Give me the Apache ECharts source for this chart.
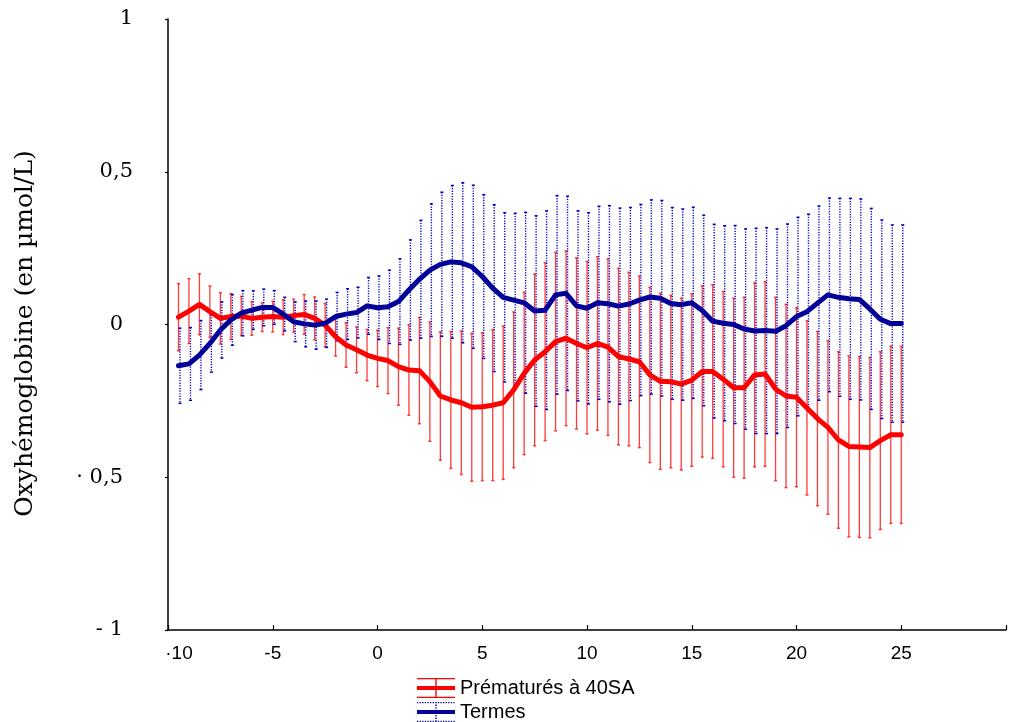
<!DOCTYPE html>
<html><head><meta charset="utf-8">
<script src="https://cdn.jsdelivr.net/npm/echarts@6/dist/echarts.min.js"></script>
<style>html,body{margin:0;padding:0;background:#fff}#c{width:1009px;height:722px}</style>
</head><body><div id="c"></div>
<script>
// ---- data ----
const xValues = [-9.5,-9,-8.5,-8,-7.5,-7,-6.5,-6,-5.5,-5,-4.5,-4,-3.5,-3,-2.5,-2,-1.5,-1,-0.5,
  0,0.5,1,1.5,2,2.5,3,3.5,4,4.5,5,5.5,6,6.5,7,7.5,8,8.5,9,9.5,10,10.5,11,11.5,12,12.5,13,13.5,14,14.5,
  15,15.5,16,16.5,17,17.5,18,18.5,19,19.5,20,20.5,21,21.5,22,22.5,23,23.5,24,24.5,25];

const pretermMean = [0.024,0.044,0.066,0.042,0.020,0.026,0.028,0.020,0.024,0.026,0.024,0.029,0.033,0.020,-0.002,-0.040,-0.067,-0.083,-0.100,
  -0.111,-0.118,-0.138,-0.149,-0.151,-0.187,-0.234,-0.247,-0.256,-0.271,-0.269,-0.264,-0.256,-0.214,-0.160,-0.116,-0.089,-0.056,-0.045,-0.062,
  -0.076,-0.062,-0.074,-0.105,-0.113,-0.122,-0.165,-0.186,-0.187,-0.195,-0.182,-0.154,-0.154,-0.179,-0.207,-0.207,-0.165,-0.162,-0.211,-0.234,
  -0.238,-0.273,-0.308,-0.337,-0.378,-0.399,-0.401,-0.403,-0.380,-0.361,-0.361];
const pretermSD = [0.110,0.106,0.100,0.084,0.084,0.075,0.064,0.055,0.047,0.050,0.057,0.054,0.065,0.070,0.071,0.063,0.073,0.075,0.084,
  0.092,0.108,0.126,0.148,0.174,0.195,0.210,0.224,0.235,0.242,0.242,0.247,0.251,0.255,0.266,0.281,0.291,0.292,0.286,0.280,
  0.282,0.284,0.289,0.289,0.284,0.281,0.287,0.288,0.282,0.281,0.282,0.280,0.284,0.287,0.293,0.296,0.301,0.302,0.300,0.300,
  0.293,0.285,0.285,0.284,0.289,0.296,0.296,0.295,0.291,0.290,0.290];

const termMean = [-0.135,-0.129,-0.100,-0.062,-0.018,0.015,0.037,0.047,0.056,0.056,0.034,0.009,0.002,-0.002,0.004,0.026,0.034,0.039,0.061,
  0.055,0.058,0.075,0.113,0.148,0.178,0.197,0.205,0.202,0.189,0.157,0.119,0.089,0.080,0.071,0.044,0.047,0.097,0.102,0.061,
  0.053,0.071,0.068,0.060,0.067,0.080,0.090,0.086,0.069,0.065,0.071,0.046,0.011,0.004,0.000,-0.015,-0.021,-0.020,-0.022,-0.004,
  0.026,0.042,0.070,0.097,0.089,0.084,0.082,0.051,0.017,0.003,0.003];
const termSD = [0.123,0.119,0.113,0.094,0.092,0.083,0.074,0.063,0.060,0.055,0.055,0.065,0.075,0.079,0.079,0.079,0.083,0.083,0.093,
  0.104,0.120,0.140,0.164,0.193,0.217,0.236,0.250,0.262,0.267,0.268,0.273,0.277,0.284,0.296,0.312,0.325,0.325,0.318,0.311,
  0.313,0.316,0.321,0.321,0.316,0.313,0.318,0.320,0.314,0.313,0.313,0.312,0.317,0.319,0.324,0.328,0.336,0.337,0.335,0.333,
  0.325,0.319,0.318,0.317,0.324,0.329,0.329,0.329,0.325,0.323,0.323];

const seriesNames = ['Prématurés à 40SA', 'Termes'];
const xTickValues = [-10,-5,0,5,10,15,20,25,30];
const xTickLabels = ['·10','-5','0','5','10','15','20','25',''];
const yTickValues = [-1,-0.5,0,0.5,1];
const yTickLabels = ['- 1','· 0,5','0','0,5','1'];
const yAxisTitle = 'Oxyhémoglobine (en µmol/L)';

// ---- build ----
const RED = '#ff0000', NAVY = '#000099';
const lineData = (means) => xValues.map((x, i) => [x, means[i]]);
const barData = (means, sds) => xValues.map((x, i) => [x, means[i], sds[i]]);

function errorBar(color, width, dash, opacity, shift) {
  return function (params, api) {
    const x = api.value(0), m = api.value(1), s = api.value(2);
    const hi = api.coord([x, m + s]);
    const lo = api.coord([x, m - s]);
    const px = hi[0] + shift;
    const style = { stroke: color, lineWidth: width, lineDash: dash, opacity: opacity };
    return {
      type: 'group',
      children: [
        { type: 'line', shape: { x1: px, y1: hi[1], x2: px, y2: lo[1] }, style: style },
        { type: 'line', shape: { x1: px - 1.5, y1: hi[1], x2: px + 1.5, y2: hi[1] }, style: { stroke: color, lineWidth: 1.5, opacity: opacity } },
        { type: 'line', shape: { x1: px - 1.5, y1: lo[1], x2: px + 1.5, y2: lo[1] }, style: { stroke: color, lineWidth: 1.5, opacity: opacity } }
      ]
    };
  };
}

// legend icons (38 x 20 box)
const redIcon = 'path://M0,0H38V1.2H0Z M0,8H38V12H0Z M0,18.8H38V20H0Z M18.3,0H19.7V20H18.3Z';
let blueIcon = 'path://M0,8H38V12H0Z';
for (let d = 0; d < 38; d += 2.6) {
  blueIcon += ' M' + d.toFixed(1) + ',0H' + (d + 1.3).toFixed(1) + 'V1.2H' + d.toFixed(1) + 'Z';
  blueIcon += ' M' + d.toFixed(1) + ',18.8H' + (d + 1.3).toFixed(1) + 'V20H' + d.toFixed(1) + 'Z';
}
for (let d = 0; d < 20; d += 2.6) {
  blueIcon += ' M18.3,' + d.toFixed(1) + 'H19.7V' + (d + 1.3).toFixed(1) + 'H18.3Z';
}

const chart = echarts.init(document.getElementById('c'), null, { renderer: 'canvas' });
chart.setOption({
  animation: false,
  backgroundColor: '#ffffff',
  grid: { left: 168, right: -7, top: 19, bottom: 92, containLabel: false },
  legend: {
    orient: 'vertical',
    left: 417, top: 678, height: 46,
    padding: 0,
    itemWidth: 38, itemHeight: 20, itemGap: 4,
    symbolKeepAspect: false,
    textStyle: { fontFamily: 'Liberation Sans, Arial, sans-serif', fontSize: 20, color: '#000' },
    data: [ { name: seriesNames[0], icon: redIcon }, { name: seriesNames[1], icon: blueIcon } ],
    selectedMode: false
  },
  xAxis: {
    type: 'value', min: -10, max: 30, interval: 5,
    axisLine: { onZero: false, lineStyle: { color: '#000', width: 1.5 } },
    axisTick: { inside: true, length: 5, lineStyle: { color: '#000', width: 1.2 } },
    splitLine: { show: false },
    axisLabel: {
      margin: 14,
      fontFamily: 'Liberation Sans, Arial, sans-serif', fontSize: 19, color: '#000',
      formatter: function (v) {
        const i = xTickValues.indexOf(v);
        const t = i >= 0 ? xTickLabels[i] : '';
        return i === 0 ? '{f|' + t + '}' : t;
      },
      rich: { f: { padding: [0, 0, 0, 22], fontFamily: 'Liberation Sans, Arial, sans-serif', fontSize: 19, color: '#000' } }
    }
  },
  yAxis: {
    type: 'value', min: -1, max: 1, interval: 0.5,
    name: yAxisTitle, nameLocation: 'middle', nameGap: 130,
    nameTextStyle: { fontFamily: 'DejaVu Serif, serif', fontSize: 25, color: '#000', padding: [0, 18, 0, 0] },
    axisLine: { onZero: false, lineStyle: { color: '#000', width: 1.5 } },
    axisTick: { inside: false, length: 3, lineStyle: { color: '#000', width: 1.2 } },
    splitLine: { show: false },
    axisLabel: {
      margin: 35,
      fontFamily: 'DejaVu Serif, serif', fontSize: 21, color: '#000',
      formatter: function (v) {
        const i = yTickValues.indexOf(Math.round(v * 10) / 10);
        const t = i >= 0 ? yTickLabels[i] : '';
        return v > 0.25 ? '{a|' + t + '}' : '{b|' + t + '}';
      },
      rich: {
        a: { fontFamily: 'DejaVu Serif, serif', fontSize: 21, color: '#000' },
        b: { fontFamily: 'DejaVu Serif, serif', fontSize: 21, color: '#000', padding: [0, 10, 0, 0] }
      }
    }
  },
  series: [
    {
      name: seriesNames[0], type: 'line', data: lineData(pretermMean), z: 3,
      showSymbol: false, symbol: 'none',
      lineStyle: { color: RED, width: 5, join: 'round', cap: 'round' },
      itemStyle: { color: RED }
    },
    {
      name: seriesNames[1], type: 'line', data: lineData(termMean), z: 4,
      showSymbol: false, symbol: 'none',
      lineStyle: { color: NAVY, width: 5, join: 'round', cap: 'round' },
      itemStyle: { color: NAVY }
    },
    {
      name: seriesNames[0], type: 'custom', z: 1, data: barData(pretermMean, pretermSD),
      renderItem: errorBar('#ff1a1a', 1.3, null, 0.85, 0),
      itemStyle: { color: RED }
    },
    {
      name: seriesNames[1], type: 'custom', z: 2, data: barData(termMean, termSD),
      renderItem: errorBar('#0000cc', 1.4, [1.2, 1.4], 1, 1.5),
      itemStyle: { color: NAVY }
    }
  ]
});
</script></body></html>
